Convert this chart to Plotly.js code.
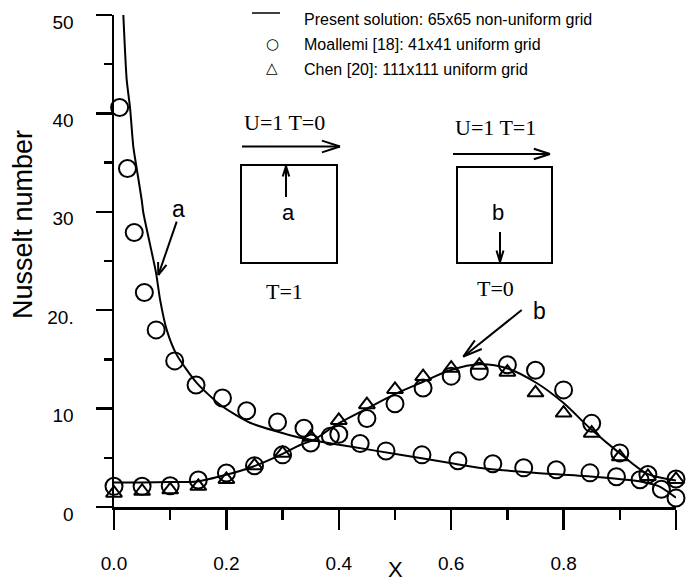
<!DOCTYPE html>
<html>
<head>
<meta charset="utf-8">
<script src="https://cdn.plot.ly/plotly-3.0.1.min.js"></script>
<style>html,body{margin:0;padding:0;background:#fff;}#chart{width:688px;height:582px;}</style>
</head>
<body>
<div id="chart"></div>
<script>
// ---------------- data ----------------
const presentAX  = [0.0166,0.0226,0.0285,0.0344,0.0404,0.0493,0.0522,0.0748,0.0819,0.0938,0.1116,0.1472,0.1887,0.2421,0.3311,0.4202,0.5092,0.5982,0.6516,0.7406,0.8474,0.9364,0.9700,1.0000];
const presentANu = [50.0,43.4,40.6,36.6,34.4,31.2,29.9,23.8,21.1,18.0,15.46,12.62,10.39,8.56,7.04,6.15,5.31,4.47,3.96,3.51,3.11,2.60,2.10,0.95];

const presentBX  = [0.0,0.05,0.10,0.147,0.20,0.248,0.30,0.331,0.358,0.391,0.45,0.497,0.551,0.598,0.652,0.699,0.752,0.80,0.847,0.90,0.948,1.0];
const presentBNu = [2.5,2.5,2.55,2.6,3.28,4.12,5.4,6.3,6.9,8.2,10.0,11.4,12.75,13.9,14.5,14.1,12.6,10.56,8.0,5.45,3.4,2.7];

const moallemiAX  = [0.010,0.024,0.036,0.054,0.075,0.108,0.146,0.193,0.236,0.291,0.338,0.385,0.438,0.484,0.548,0.612,0.674,0.729,0.787,0.847,0.894,0.936,0.974,1.000];
const moallemiANu = [40.6,34.4,27.9,21.8,18.0,14.85,12.4,11.07,9.78,8.63,8.0,7.2,6.45,5.7,5.3,4.7,4.4,3.98,3.79,3.47,3.08,2.77,1.8,0.91];

const moallemiBX  = [0.0,0.05,0.10,0.15,0.20,0.25,0.30,0.35,0.40,0.45,0.50,0.55,0.60,0.65,0.70,0.75,0.80,0.85,0.90,0.95,1.0];
const moallemiBNu = [2.1,2.1,2.15,2.75,3.45,4.2,5.3,6.5,7.4,9.0,10.5,12.1,13.3,13.8,14.45,13.9,11.9,8.5,5.5,3.3,2.85];

const chenX  = [0.0,0.05,0.10,0.15,0.20,0.25,0.30,0.35,0.40,0.45,0.50,0.55,0.60,0.65,0.70,0.75,0.80,0.85,0.90,0.95,1.0];
const chenNu = [1.4,1.6,1.75,2.1,2.8,4.2,5.45,7.1,8.8,10.4,11.95,13.25,14.1,14.4,13.7,11.6,9.55,7.5,5.1,3.1,2.8];

const xTickVals = [0,0.2,0.4,0.6,0.8,1.0];
const xTickText = ["0.0","0.2","0.4","0.6","0.8","1.0"];
const yTickVals = [0,10,20,30,40,50];
const yTickText = ["0","10","20.","30","40","50"];

const legendLabels = ["Present solution: 65x65 non-uniform grid","Moallemi [18]: 41x41 uniform grid","Chen [20]: 111x111 uniform grid"];
const yTitle = "Nusselt number";
const xTitle = "X";

// ---------------- layout helpers (pixel -> paper) ----------------
const W = 688, H = 582;
const M = {l:114, r:12, t:15, b:75};
const PW = W - M.l - M.r, PH = H - M.t - M.b;
const px = v => (v - M.l) / PW;
const py = v => (H - M.b - v) / PH;

function seg(x0,y0,x1,y1,w){
  return {type:'line', xref:'paper', yref:'paper', x0:px(x0), y0:py(y0), x1:px(x1), y1:py(y1),
          line:{color:'#000', width:w||2}};
}
function arrow(tx,ty,hx,hy,len,half,w){
  const ang = Math.atan2(ty-hy, tx-hx);
  const a = half*Math.PI/180;
  return [
    seg(tx,ty,hx,hy,w),
    seg(hx,hy,hx+len*Math.cos(ang+a),hy+len*Math.sin(ang+a),w),
    seg(hx,hy,hx+len*Math.cos(ang-a),hy+len*Math.sin(ang-a),w)
  ];
}
function rect(x0,y0,x1,y1){
  return {type:'rect', xref:'paper', yref:'paper', x0:px(x0), y0:py(y1), x1:px(x1), y1:py(y0),
          line:{color:'#000', width:2}, fillcolor:'rgba(0,0,0,0)'};
}
function label(text,x,y,font,size,opts){
  return Object.assign({text:text, xref:'paper', yref:'paper', x:px(x), y:py(y), showarrow:false,
          xanchor:'center', yanchor:'middle', font:{family:font, size:size, color:'#000'}}, opts||{});
}

const SANS = 'Liberation Sans, Arial, sans-serif';
const SERIF = 'Liberation Serif, Times New Roman, serif';

// ---------------- traces ----------------
const traces = [
  {x:presentAX, y:presentANu, mode:'lines', name:legendLabels[0], line:{color:'#000', width:2, shape:'spline', smoothing:0.6}, showlegend:false},
  {x:presentBX, y:presentBNu, mode:'lines', name:legendLabels[0], line:{color:'#000', width:2, shape:'spline', smoothing:0.8}, showlegend:false},
  {x:moallemiAX, y:moallemiANu, mode:'markers', name:legendLabels[1], cliponaxis:false,
   marker:{symbol:'circle-open', size:17, color:'#000', line:{color:'#000', width:2}}, showlegend:false},
  {x:moallemiBX, y:moallemiBNu, mode:'markers', name:legendLabels[1], cliponaxis:false,
   marker:{symbol:'circle-open', size:17, color:'#000', line:{color:'#000', width:2}}, showlegend:false},
  {x:chenX, y:chenNu, mode:'markers', name:legendLabels[2], cliponaxis:false,
   marker:{symbol:'triangle-up-open', size:14, color:'#000', line:{color:'#000', width:2}}, showlegend:false}
];

// ---------------- decorations ----------------
let shapes = [];
shapes.push(seg(252,13,280,13,1.5));
shapes.push(rect(241,165,337,263));
shapes.push(rect(457,167,552,263));
shapes = shapes.concat(arrow(242,146.5,340,146.5,19,18,2));
shapes = shapes.concat(arrow(453,154,550,154,17,18,2));
shapes = shapes.concat(arrow(286,197,286,166,11,17,2));
shapes = shapes.concat(arrow(500,232,500,262,12,17,2));
shapes = shapes.concat(arrow(176.7,221.7,158.3,275,13,20,2));
shapes = shapes.concat(arrow(521.7,310,463.3,356.7,20,16,2));

const annotations = [
  label(legendLabels[0],302,19,SANS,16,{xanchor:'left'}),
  label(legendLabels[1],302,44,SANS,16,{xanchor:'left'}),
  label(legendLabels[2],302,69,SANS,16,{xanchor:'left'}),
  label('\u25CB',272,44,'DejaVu Sans',15),
  label('\u25B3',272,68,'DejaVu Sans',15),
  label('U=1 T=0',284,122,SERIF,22),
  label('U=1 T=1',495,127,SERIF,22),
  label('T=1',284,291,SERIF,22),
  label('T=0',495,288,SERIF,22),
  label('a',288,212,SANS,22),
  label('b',498,212,SANS,22),
  label('a',178,209,SANS,23),
  label('b',539,311,SANS,23),
  label(yTitle,23,225,SANS,27,{textangle:-90}),
  label(xTitle,395,569,SANS,22)
];

const layout = {
  width:W, height:H,
  margin:M,
  paper_bgcolor:'#fff', plot_bgcolor:'#fff',
  showlegend:false,
  font:{family:SANS, color:'#000'},
  xaxis:{range:[0,1], showline:true, linecolor:'#000', linewidth:3, zeroline:false, showgrid:false,
         ticks:'outside', ticklen:20, tickwidth:2.5, tickcolor:'#000',
         tickvals:xTickVals, ticktext:xTickText, tickfont:{family:SANS, size:19, color:'#000'},
         ticklabelstandoff:17,
         minor:{dtick:0.1, ticks:'outside', ticklen:10, tickwidth:2.5, tickcolor:'#000', showgrid:false}},
  yaxis:{range:[0,50], showline:true, linecolor:'#000', linewidth:2.5, zeroline:false, showgrid:false,
         ticks:'outside', ticklen:16, tickwidth:2.5, tickcolor:'#000',
         tickvals:yTickVals, ticktext:yTickText, tickfont:{family:SANS, size:19, color:'#000'},
         ticklabelstandoff:18, ticklabelshift:7,
         minor:{dtick:5, ticks:'outside', ticklen:8, tickwidth:2.5, tickcolor:'#000', showgrid:false}},
  shapes:shapes,
  annotations:annotations
};

Plotly.newPlot('chart', traces, layout, {displayModeBar:false, staticPlot:true});
</script>
</body>
</html>
